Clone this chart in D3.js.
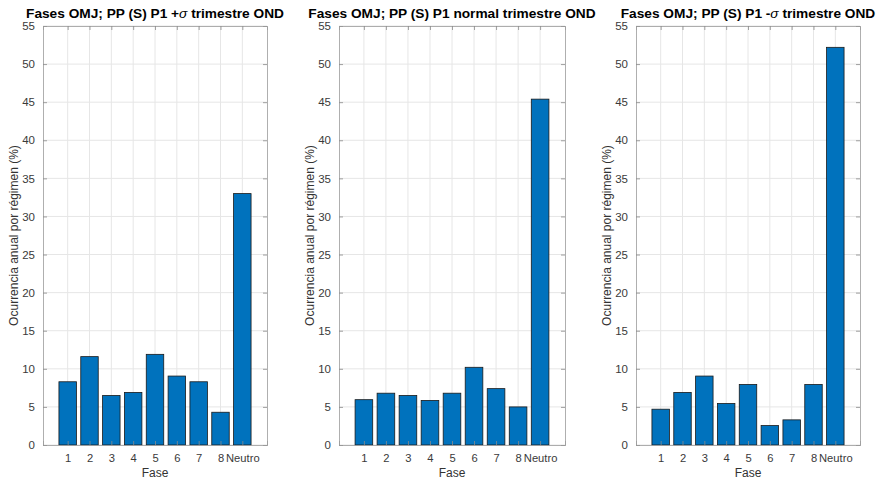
<!DOCTYPE html>
<html lang="es">
<head>
<meta charset="UTF-8">
<title>Fases OMJ</title>
<script src="https://d3js.org/d3.v7.min.js"></script>
<style>
    body { margin: 0; background: #fff; }
    text { font-family: "Liberation Sans", Arial, sans-serif; }
    .tick text { fill: #3a3a3a; }
    .titulo { font-size: 13.7px; font-weight: bold; fill: #000; }
    .etiqueta { font-size: 12px; fill: #333; }
</style>
</head>
<body>
<svg width="878" height="480"></svg>
<script>
    // categorías del eje x
    const fases = ["1", "2", "3", "4", "5", "6", "7", "8", "Neutro"];
    const yTicks = [0, 5, 10, 15, 20, 25, 30, 35, 40, 45, 50, 55];

    // ocurrencia anual por régimen (%)
    const masSigma = [8.3, 11.6, 6.5, 6.9, 11.9, 9.05, 8.3, 4.3, 33.0];
    const normal   = [5.95, 6.8, 6.5, 5.85, 6.8, 10.2, 7.4, 5.0, 45.4];
    const menosSigma = [4.7, 6.9, 9.05, 5.45, 7.95, 2.55, 3.3, 7.95, 52.2];

    const paneles = [
        { pre: "Fases OMJ; PP (S) P1 +", sig: "\u03C3", post: " trimestre OND", valores: masSigma, x0: 43, x1: 267 },
        { pre: "Fases OMJ; PP (S) P1 normal trimestre OND", sig: "", post: "", valores: normal, x0: 339, x1: 565 },
        { pre: "Fases OMJ; PP (S) P1 -", sig: "\u03C3", post: " trimestre OND", valores: menosSigma, x0: 636, x1: 860 }
    ];

    const svg = d3.select("svg");
    const yTop = 26, yBottom = 445;

    const y = d3.scaleLinear().domain([0, 55]).range([yBottom, yTop]);

    paneles.forEach(p => {
        const g = svg.append("g");

        // posiciones 1..9, con un margen a cada lado como en MATLAB
        const x = d3.scaleLinear().domain([-0.13, 10.13]).range([p.x0, p.x1]);
        const ancho = 0.8 * (x(1) - x(0));

        // grilla
        g.append("g").selectAll("line")
            .data(yTicks)
            .join("line")
            .attr("x1", p.x0).attr("x2", p.x1)
            .attr("y1", d => y(d)).attr("y2", d => y(d))
            .attr("stroke", "#e6e6e6");
        g.append("g").selectAll("line")
            .data(fases)
            .join("line")
            .attr("x1", (d, i) => x(i + 1)).attr("x2", (d, i) => x(i + 1))
            .attr("y1", yTop).attr("y2", yBottom)
            .attr("stroke", "#e6e6e6");

        // barras
        g.append("g").selectAll("rect")
            .data(p.valores)
            .join("rect")
            .attr("x", (d, i) => x(i + 1) - ancho / 2)
            .attr("width", ancho)
            .attr("y", d => y(d))
            .attr("height", d => yBottom - y(d))
            .attr("fill", "#0072BD")
            .attr("stroke", "#1a1a1a")
            .attr("stroke-width", 0.8);

        // ejes
        const ejeY = g.append("g")
            .attr("transform", `translate(${p.x0},0)`)
            .call(d3.axisLeft(y).tickValues(yTicks).tickSize(-4).tickPadding(8));
        const ejeYd = g.append("g")
            .attr("transform", `translate(${p.x1},0)`)
            .call(d3.axisRight(y).tickValues(yTicks).tickSize(-4).tickFormat(""));
        const ejeX = g.append("g")
            .attr("transform", `translate(0,${yBottom})`)
            .call(d3.axisBottom(x).tickValues(d3.range(1, 10)).tickFormat(i => fases[i - 1]).tickSize(-4).tickPadding(9));
        const ejeXs = g.append("g")
            .attr("transform", `translate(0,${yTop})`)
            .call(d3.axisTop(x).tickValues(d3.range(1, 10)).tickSize(-4).tickFormat(""));
        [ejeY, ejeYd, ejeX, ejeXs].forEach(e => {
            e.select(".domain").attr("stroke", "#9a9a9a").attr("stroke-width", 0.8);
            e.selectAll(".tick line").attr("stroke", "#8a8a8a").attr("stroke-width", 0.8);
        });
        ejeY.selectAll(".tick text").attr("font-size", 11.5);
        ejeX.selectAll(".tick text").attr("font-size", 11.2);

        // título
        const t = g.append("text")
            .attr("class", "titulo")
            .attr("x", (p.x0 + p.x1) / 2)
            .attr("y", 18)
            .attr("text-anchor", "middle");
        t.append("tspan").text(p.pre);
        if (p.sig) {
            t.append("tspan").attr("font-style", "italic").attr("font-weight", "normal").text(p.sig);
            t.append("tspan").text(p.post);
        }

        // etiquetas de ejes
        g.append("text")
            .attr("class", "etiqueta")
            .attr("x", (p.x0 + p.x1) / 2)
            .attr("y", 477)
            .attr("text-anchor", "middle")
            .text("Fase");
        g.append("text")
            .attr("class", "etiqueta")
            .attr("transform", `translate(${p.x0 - 25},${(yTop + yBottom) / 2}) rotate(-90)`)
            .attr("text-anchor", "middle")
            .text("Ocurrencia anual por régimen (%)");
    });
</script>
</body>
</html>
